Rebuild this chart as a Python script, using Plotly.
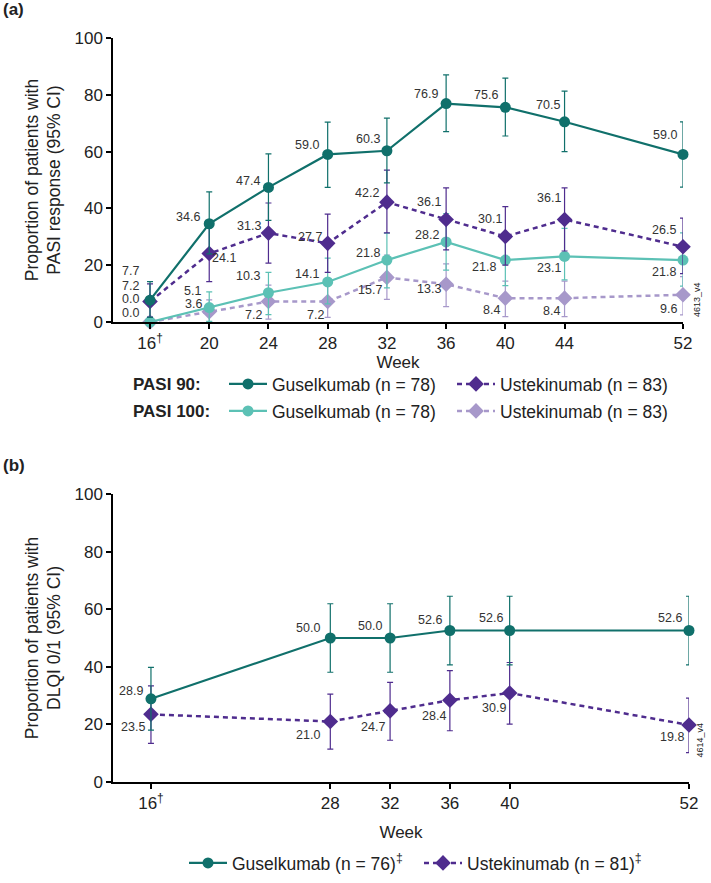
import plotly.graph_objects as go

# ---- panel (a): PASI response ----
WEEKS_A = [16, 20, 24, 28, 32, 36, 40, 44, 52]
WEEK_LABELS_A = ["16<sup>†</sup>", "20", "24", "28", "32", "36", "40", "44", "52"]

GUS90 = [7.7, 34.6, 47.4, 59.0, 60.3, 76.9, 75.6, 70.5, 59.0]
GUS90_LO = [1.6, 24.0, 35.8, 47.4, 49.0, 67.0, 65.5, 60.0, 47.5]
GUS90_HI = [14.2, 45.8, 59.2, 70.4, 71.8, 87.0, 85.9, 81.3, 70.5]

UST90 = [7.2, 24.1, 31.3, 27.7, 42.2, 36.1, 30.1, 36.1, 26.5]
UST90_LO = [1.7, 14.2, 20.7, 17.5, 31.4, 25.4, 20.0, 25.0, 17.0]
UST90_HI = [13.4, 33.3, 41.9, 38.0, 53.5, 47.2, 40.6, 47.2, 36.6]

GUS100 = [0.0, 5.1, 10.3, 14.1, 21.8, 28.2, 21.8, 23.1, 21.8]
GUS100_LO = [0.0, 0.2, 2.6, 6.4, 12.0, 18.3, 12.8, 14.8, 12.6]
GUS100_HI = [0.0, 10.6, 17.5, 22.5, 31.3, 38.2, 31.0, 33.0, 31.4]

UST100 = [0.0, 3.6, 7.2, 7.2, 15.7, 13.3, 8.4, 8.4, 9.6]
UST100_LO = [0.0, 0.0, 1.0, 1.6, 8.0, 5.4, 1.9, 1.9, 2.5]
UST100_HI = [0.0, 7.8, 13.0, 13.0, 23.6, 20.5, 14.4, 14.4, 16.0]

# ---- panel (b): DLQI 0/1 ----
WEEKS_B = [16, 28, 32, 36, 40, 52]
WEEK_LABELS_B = ["16<sup>†</sup>", "28", "32", "36", "40", "52"]

GUS_DLQI = [28.9, 50.0, 50.0, 52.6, 52.6, 52.6]
GUS_DLQI_LO = [18.0, 38.1, 38.1, 40.7, 40.7, 40.7]
GUS_DLQI_HI = [39.8, 61.9, 61.9, 64.5, 64.5, 64.5]

UST_DLQI = [23.5, 21.0, 24.7, 28.4, 30.9, 19.8]
UST_DLQI_LO = [13.4, 11.4, 14.5, 17.8, 20.1, 10.2]
UST_DLQI_HI = [33.4, 30.5, 34.6, 38.7, 41.5, 29.1]

# label offsets in px (dx, dy down-positive), one per point
OFF_GUS90 = [(-20, -29), (-21, -7), (-20, -6), (-21, -9), (-19, -12), (-20, -10), (-19, -12), (-17, -17), (-18, -19)]
OFF_UST90 = [(-20, -16), (15, 4), (-19, -7), (-18, -6), (-20, -9), (-17, -17), (-15, -18), (-16, -21), (-19, -17)]
OFF_GUS100 = [(-20, -23), (-17, -17), (-20, -17), (-21, -8), (-19, -7), (-19, -7), (-21, 7), (-16, 12), (-19, 12)]
OFF_UST100 = [(-20, -9), (-16, -8), (-15, 13), (-12, 13), (-17, 13), (-17, 5), (-14, 12), (-13, 13), (-15, 14)]
OFF_GUS_DLQI = [(-20, -8), (-22, -10), (-20, -12), (-20, -11), (-19, -13), (-19, -13)]
OFF_UST_DLQI = [(-18, 13), (-22, 13), (-17, 16), (-16, 16), (-16, 15), (-17, 12)]

DARK_TEAL = "#10706B"
PURPLE = "#4F2C8E"
LIGHT_TEAL = "#5CC1B5"
LIGHT_PURPLE = "#A798CA"

FONT = "Liberation Sans, Arial, sans-serif"
W, H = 711, 883


def err(vals, lo, hi, color):
    return dict(type="data", symmetric=False,
                array=[h - v for v, h in zip(vals, hi)],
                arrayminus=[v - l for v, l in zip(vals, lo)],
                color=color, thickness=1.2, width=3)


def series(x, y, lo, hi, color, name, dashed, symbol, xaxis, yaxis, legend, rank):
    return go.Scatter(
        x=x, y=y, name=name, mode="lines+markers",
        line=dict(color=color, width=2.5 if dashed else 2.2, dash="5px,4px" if dashed else "solid"),
        marker=dict(color=color, size=12 if symbol == "diamond" else 11, symbol=symbol),
        error_y=err(y, lo, hi, color),
        xaxis=xaxis, yaxis=yaxis, legend=legend, legendrank=rank, cliponaxis=False,
    )


fig = go.Figure()
fig.add_trace(series(WEEKS_A, UST100, UST100_LO, UST100_HI, LIGHT_PURPLE, "Ustekinumab (n = 83)",
                     True, "diamond", "x", "y", "legend2", 2))
fig.add_trace(series(WEEKS_A, GUS100, GUS100_LO, GUS100_HI, LIGHT_TEAL, "Guselkumab (n = 78)",
                     False, "circle", "x", "y", "legend2", 1))
fig.add_trace(series(WEEKS_A, UST90, UST90_LO, UST90_HI, PURPLE, "Ustekinumab (n = 83)",
                     True, "diamond", "x", "y", "legend", 2))
fig.add_trace(series(WEEKS_A, GUS90, GUS90_LO, GUS90_HI, DARK_TEAL, "Guselkumab (n = 78)",
                     False, "circle", "x", "y", "legend", 1))
fig.add_trace(series(WEEKS_B, UST_DLQI, UST_DLQI_LO, UST_DLQI_HI, PURPLE, "Ustekinumab (n = 81)<sup>‡</sup>",
                     True, "diamond", "x2", "y2", "legend3", 2))
fig.add_trace(series(WEEKS_B, GUS_DLQI, GUS_DLQI_LO, GUS_DLQI_HI, DARK_TEAL, "Guselkumab (n = 76)<sup>‡</sup>",
                     False, "circle", "x2", "y2", "legend3", 1))

annotations = []


def add_labels(xs, ys, offs, xref, yref):
    for x, y, (dx, dy) in zip(xs, ys, offs):
        annotations.append(dict(x=x, y=y, xref=xref, yref=yref, text=f"{y:.1f}", showarrow=False,
                                xshift=dx, yshift=-dy, font=dict(size=12.5, color="#333333")))


add_labels(WEEKS_A, GUS90, OFF_GUS90, "x", "y")
add_labels(WEEKS_A, UST90, OFF_UST90, "x", "y")
add_labels(WEEKS_A, GUS100, OFF_GUS100, "x", "y")
add_labels(WEEKS_A, UST100, OFF_UST100, "x", "y")
add_labels(WEEKS_B, GUS_DLQI, OFF_GUS_DLQI, "x2", "y2")
add_labels(WEEKS_B, UST_DLQI, OFF_UST_DLQI, "x2", "y2")


# positions below are in page pixels; convert to paper fractions
def px_x(p):
    return p / W


def px_y(p):
    return 1 - p / H


for txt, x, y in [("<b>(a)</b>", 1, 10), ("<b>(b)</b>", 1, 465)]:
    annotations.append(dict(text=txt, x=px_x(x), y=px_y(y), xref="paper", yref="paper",
                            xanchor="left", yanchor="middle", showarrow=False, font=dict(size=17)))
for txt, y in [("<b>PASI 90:</b>", 384), ("<b>PASI 100:</b>", 411)]:
    annotations.append(dict(text=txt, x=px_x(131), y=px_y(y), xref="paper", yref="paper",
                            xanchor="left", yanchor="middle", showarrow=False, font=dict(size=17)))
for txt, x, y in [("4613_v4", 704, 300), ("4614_v4", 706, 760)]:
    annotations.append(dict(text=txt, x=px_x(x), y=px_y(y), xref="paper", yref="paper",
                            textangle=-90, showarrow=False, font=dict(size=9)))

axis_common = dict(showline=True, linecolor="black", linewidth=1.5, showgrid=False, zeroline=False,
                   ticks="outside", ticklen=5, tickwidth=1.5, tickcolor="black",
                   tickfont=dict(size=17, color="#222"), automargin=False)

legend_common = dict(orientation="h", xanchor="left", yanchor="middle", font=dict(size=17.5),
                     bgcolor="rgba(0,0,0,0)", itemwidth=38, traceorder="normal")

fig.update_layout(
    width=W, height=H, margin=dict(l=0, r=0, t=0, b=0),
    paper_bgcolor="white", plot_bgcolor="white",
    font=dict(family=FONT, color="#222"),
    xaxis=dict(axis_common, domain=[px_x(113), px_x(683)], range=[13.5, 52],
               tickvals=WEEKS_A, ticktext=WEEK_LABELS_A, anchor="y",
               title=dict(text="Week", font=dict(size=17), standoff=1)),
    yaxis=dict(axis_common, domain=[px_y(322), px_y(38)], range=[0, 100], dtick=20, anchor="x",
               title=dict(text="Proportion of patients with<br>PASI response (95% CI)",
                          font=dict(size=17.5), standoff=9)),
    xaxis2=dict(axis_common, domain=[px_x(113), px_x(689)], range=[13.46, 52],
                tickvals=WEEKS_B, ticktext=WEEK_LABELS_B, anchor="y2",
                title=dict(text="Week", font=dict(size=17), standoff=14)),
    yaxis2=dict(axis_common, domain=[px_y(782), px_y(494)], range=[0, 100], dtick=20, anchor="x2",
                title=dict(text="Proportion of patients with<br>DLQI 0/1 (95% CI)",
                           font=dict(size=17.5), standoff=9)),
    legend=dict(legend_common, x=px_x(224), y=px_y(384), entrywidth=175),
    legend2=dict(legend_common, x=px_x(224), y=px_y(411), entrywidth=175),
    legend3=dict(legend_common, x=px_x(184), y=px_y(863), entrywidth=182),
    annotations=annotations,
)

# drop the default page margin so the figure fills the window exactly
fig.write_html("out.html", config={"displayModeBar": False},
               post_script="document.body.style.margin='0';document.body.style.overflow='hidden';")
